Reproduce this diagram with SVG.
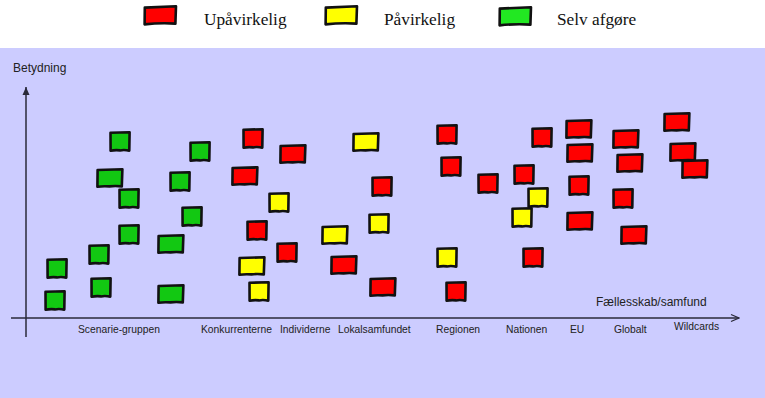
<svg xmlns="http://www.w3.org/2000/svg" xmlns:xlink="http://www.w3.org/1999/xlink" width="765" height="398" viewBox="0 0 765 398">
<style>
.bx{stroke:#111;stroke-width:2.6;stroke-linejoin:round;stroke-linecap:round}
.r{fill:#FF0000}
.y{fill:#FFFF00}
.g{fill:#12C812}
.gl{fill:#22E822}
.leg{font-family:"Liberation Serif","Times New Roman",serif;font-size:17.3px;fill:#111}
.lab{font-family:"Liberation Sans",Arial,sans-serif;font-size:10.3px;fill:#222}
.ttl{font-family:"Liberation Sans",Arial,sans-serif;font-size:12px;fill:#222}
.ax{stroke:#2a2a3a;stroke-width:1.5;fill:none}
</style>
<defs>
<path id="sq" d="M0.5,0.8 L19.6,0.2 L19.3,18.6 Q14,17.6 10,18.4 Q5,17.8 0.6,18.8 Z"/>
<path id="wd" d="M0.6,1.0 L25.4,0.3 L24.8,17.4 Q18,16.6 12.5,17.4 Q6,16.8 0.4,17.8 Z"/>
<path id="lg" d="M0.8,1.6 L32,0.3 L31.4,17.6 Q16,16.6 0.6,18.4 Z"/>
<marker id="ahx" markerWidth="10" markerHeight="10" refX="9" refY="5" orient="auto" markerUnits="userSpaceOnUse">
<path d="M1,1.5 L9,5 L1,8.5" fill="none" stroke="#2a2a3a" stroke-width="1.3"/>
</marker>
<marker id="ahy" markerWidth="10" markerHeight="10" refX="9" refY="5" orient="auto" markerUnits="userSpaceOnUse">
<path d="M1,1.5 L9,5 L1,8.5 Z" fill="#2a2a3a"/>
</marker>
</defs>
<rect x="0" y="0" width="765" height="398" fill="#FFFFFF"/>
<rect x="0" y="48" width="765" height="350" fill="#CCCCFF"/>

<g id="legend">
<g id="legend-red"><use xlink:href="#lg" x="144" y="6" class="bx r"/><text class="leg" x="204" y="25">Upåvirkelig</text></g>
<g id="legend-yellow"><use xlink:href="#lg" x="325" y="6" class="bx y"/><text class="leg" x="384" y="25">Påvirkelig</text></g>
<g id="legend-green"><use xlink:href="#lg" x="499" y="7" class="bx gl"/><text class="leg" x="557" y="25">Selv afgøre</text></g>
</g>

<g id="connectors">
<line class="ax" x1="26" y1="337" x2="26" y2="87" marker-end="url(#ahy)"/>
<line class="ax" x1="11" y1="318" x2="739" y2="318" marker-end="url(#ahx)"/>
</g>

<g id="axis-titles">
<text class="ttl" x="13" y="72">Betydning</text>
<text class="ttl" x="596" y="306">Fællesskab/samfund</text>
</g>

<g id="axis-labels">
<text class="lab" x="78" y="333">Scenarie-gruppen</text>
<text class="lab" x="201" y="333">Konkurrenterne</text>
<text class="lab" x="280" y="333">Individerne</text>
<text class="lab" x="338" y="333">Lokalsamfundet</text>
<text class="lab" x="436" y="333">Regionen</text>
<text class="lab" x="506" y="333">Nationen</text>
<text class="lab" x="570" y="333">EU</text>
<text class="lab" x="614" y="333">Globalt</text>
<text class="lab" x="674" y="330">Wildcards</text>
</g>

<g id="scenarie-gruppen">
<use id="g1" xlink:href="#sq" x="110" y="132" class="bx g"/>
<use id="g2" xlink:href="#wd" x="97" y="169" class="bx g" transform="translate(0,0)"/>
<use id="g3" xlink:href="#sq" x="119" y="189" class="bx g"/>
<use id="g4" xlink:href="#sq" x="190" y="142" class="bx g"/>
<use id="g5" xlink:href="#sq" x="170" y="172" class="bx g"/>
<use id="g6" xlink:href="#sq" x="182" y="207" class="bx g"/>
<use id="g7" xlink:href="#sq" x="119" y="225" class="bx g"/>
<use id="g8" xlink:href="#sq" x="89" y="245" class="bx g"/>
<use id="g9" xlink:href="#wd" x="158" y="235" class="bx g"/>
<use id="g10" xlink:href="#sq" x="47" y="259" class="bx g"/>
<use id="g11" xlink:href="#sq" x="91" y="278" class="bx g"/>
<use id="g12" xlink:href="#sq" x="45" y="291" class="bx g"/>
<use id="g13" xlink:href="#wd" x="158" y="285" class="bx g"/>
</g>

<g id="konkurrenterne">
<use id="k1" xlink:href="#sq" x="243" y="129" class="bx r"/>
<use id="k2" xlink:href="#wd" x="232" y="167" class="bx r"/>
<use id="k3" xlink:href="#sq" x="247" y="221" class="bx r"/>
<use id="k4" xlink:href="#wd" x="239" y="257" class="bx y"/>
<use id="k5" xlink:href="#sq" x="249" y="282" class="bx y"/>
</g>

<g id="individerne">
<use id="i1" xlink:href="#wd" x="280" y="145" class="bx r"/>
<use id="i2" xlink:href="#sq" x="269" y="193" class="bx y"/>
<use id="i3" xlink:href="#sq" x="277" y="243" class="bx r"/>
</g>

<g id="lokalsamfundet">
<use id="l1" xlink:href="#wd" x="353" y="133" class="bx y"/>
<use id="l2" xlink:href="#sq" x="372" y="177" class="bx r"/>
<use id="l3" xlink:href="#sq" x="369" y="214" class="bx y"/>
<use id="l4" xlink:href="#wd" x="322" y="226" class="bx y"/>
<use id="l5" xlink:href="#wd" x="331" y="256" class="bx r"/>
<use id="l6" xlink:href="#wd" x="370" y="278" class="bx r"/>
</g>

<g id="regionen">
<use id="re1" xlink:href="#sq" x="437" y="125" class="bx r"/>
<use id="re2" xlink:href="#sq" x="441" y="157" class="bx r"/>
<use id="re3" xlink:href="#sq" x="437" y="248" class="bx y"/>
<use id="re4" xlink:href="#sq" x="446" y="282" class="bx r"/>
</g>

<g id="nationen">
<use id="n1" xlink:href="#sq" x="532" y="128" class="bx r"/>
<use id="n2" xlink:href="#sq" x="478" y="174" class="bx r"/>
<use id="n3" xlink:href="#sq" x="514" y="165" class="bx r"/>
<use id="n4" xlink:href="#sq" x="528" y="188" class="bx y"/>
<use id="n5" xlink:href="#sq" x="512" y="208" class="bx y"/>
<use id="n6" xlink:href="#sq" x="523" y="248" class="bx r"/>
</g>

<g id="eu">
<use id="e1" xlink:href="#wd" x="566" y="120" class="bx r"/>
<use id="e2" xlink:href="#wd" x="567" y="144" class="bx r"/>
<use id="e3" xlink:href="#sq" x="569" y="176" class="bx r"/>
<use id="e4" xlink:href="#wd" x="567" y="212" class="bx r"/>
</g>

<g id="globalt">
<use id="gl1" xlink:href="#wd" x="613" y="130" class="bx r"/>
<use id="gl2" xlink:href="#wd" x="617" y="154" class="bx r"/>
<use id="gl3" xlink:href="#sq" x="613" y="189" class="bx r"/>
<use id="gl4" xlink:href="#wd" x="621" y="226" class="bx r"/>
</g>

<g id="wildcards">
<use id="w1" xlink:href="#wd" x="664" y="113" class="bx r"/>
<use id="w2" xlink:href="#wd" x="670" y="143" class="bx r"/>
<use id="w3" xlink:href="#wd" x="682" y="160" class="bx r"/>
</g>
</svg>
